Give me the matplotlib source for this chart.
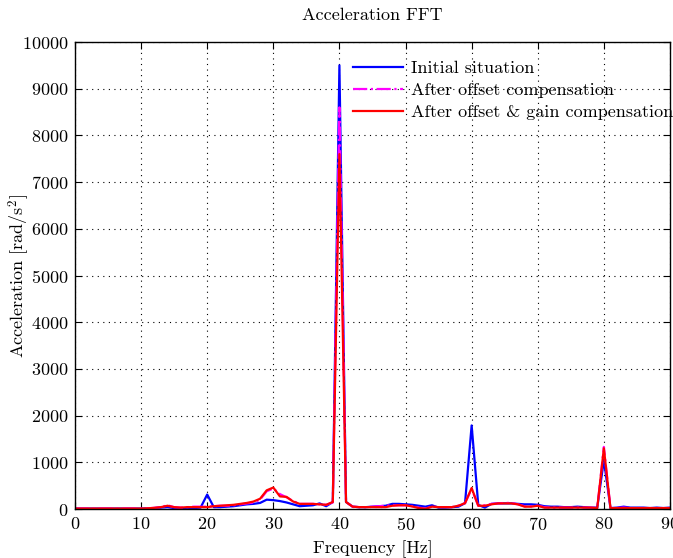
import numpy as np
import matplotlib
matplotlib.use("Agg")
import matplotlib.pyplot as plt

plt.rcParams["font.family"] = "serif"
plt.rcParams["font.serif"] = ["cmr10"]
plt.rcParams["mathtext.fontset"] = "cm"
plt.rcParams["axes.formatter.use_mathtext"] = True

freq = np.arange(0, 91)

# initial situation
acc_initial = [
    10, 10, 10, 10, 10, 10, 10, 10, 10, 10,
    10, 15, 20, 30, 40, 20, 20, 20, 20, 30,
    310, 40, 40, 50, 60, 80, 100, 110, 130, 200,
    190, 170, 140, 100, 60, 70, 80, 120, 60, 150,
    9500, 150, 50, 40, 40, 50, 60, 70, 110, 110,
    100, 90, 70, 50, 80, 30, 30, 40, 50, 125,
    1790, 90, 30, 110, 120, 120, 120, 110, 100, 100,
    90, 60, 50, 50, 40, 40, 50, 40, 30, 30,
    1050, 20, 30, 50, 30, 30, 30, 20, 30, 20,
    30,
]

# after offset compensation
acc_offset = [
    10, 10, 10, 10, 10, 10, 10, 10, 10, 10,
    10, 15, 25, 40, 80, 40, 30, 40, 50, 50,
    50, 60, 70, 70, 80, 100, 120, 140, 200, 380,
    440, 320, 250, 170, 110, 110, 110, 100, 90, 140,
    8600, 150, 50, 40, 40, 50, 60, 70, 80, 80,
    80, 60, 30, 10, 50, 40, 40, 40, 70, 125,
    430, 70, 80, 110, 120, 130, 130, 100, 60, 60,
    70, 40, 30, 30, 30, 30, 30, 30, 30, 20,
    1330, 20, 20, 30, 20, 20, 20, 20, 20, 20,
    20,
]

# after offset & gain compensation
acc_gain = [
    10, 10, 10, 10, 10, 10, 10, 10, 10, 10,
    10, 15, 25, 40, 70, 40, 30, 40, 40, 40,
    40, 60, 70, 80, 90, 110, 130, 160, 220, 400,
    460, 270, 260, 160, 110, 110, 110, 100, 90, 150,
    7600, 150, 50, 40, 40, 40, 40, 40, 70, 80,
    80, 55, 20, 5, 50, 40, 40, 40, 70, 125,
    450, 70, 70, 100, 120, 120, 120, 100, 50, 50,
    70, 30, 30, 30, 30, 30, 30, 30, 30, 20,
    1300, 20, 20, 20, 20, 20, 20, 20, 20, 20,
    20,
]

fig = plt.figure(figsize=(6.73, 5.58), dpi=100)
ax = fig.add_axes([0.1114, 0.0878, 0.8841, 0.8369])

ax.plot(freq, acc_initial, color="blue", lw=1.6, label="Initial situation")
ax.plot(freq, acc_offset, color="magenta", lw=1.6, ls="-.", label="After offset compensation")
ax.plot(freq, acc_gain, color="red", lw=1.6, label="After offset & gain compensation")

ax.set_xlim(0, 90)
ax.set_ylim(0, 10000)
ax.set_xticks(np.arange(0, 91, 10))
ax.set_yticks(np.arange(0, 10001, 1000))
ax.grid(True, ls=(0, (1, 4)), color="black", lw=0.8)
ax.tick_params(direction="in", top=True, right=True, length=5, labelsize=13, pad=5)
for s in ax.spines.values():
    s.set_linewidth(1.0)

ax.text(0.5, 1.058, "Acceleration FFT", transform=ax.transAxes,
        ha="center", va="center", fontsize=13)
ax.set_xlabel("Frequency [Hz]", fontsize=13)
ax.xaxis.set_label_coords(0.5, -0.066)
ax.set_ylabel("Acceleration [rad/s$^2$]", fontsize=13)
ax.yaxis.set_label_coords(-0.072, 0.5)

ax.legend(loc="upper left", bbox_to_anchor=(0.455, 0.976), frameon=False,
          fontsize=13, handlelength=2.8, labelspacing=0.35, borderaxespad=0,
          handletextpad=0.4)

fig.savefig("out.png", dpi=100)
